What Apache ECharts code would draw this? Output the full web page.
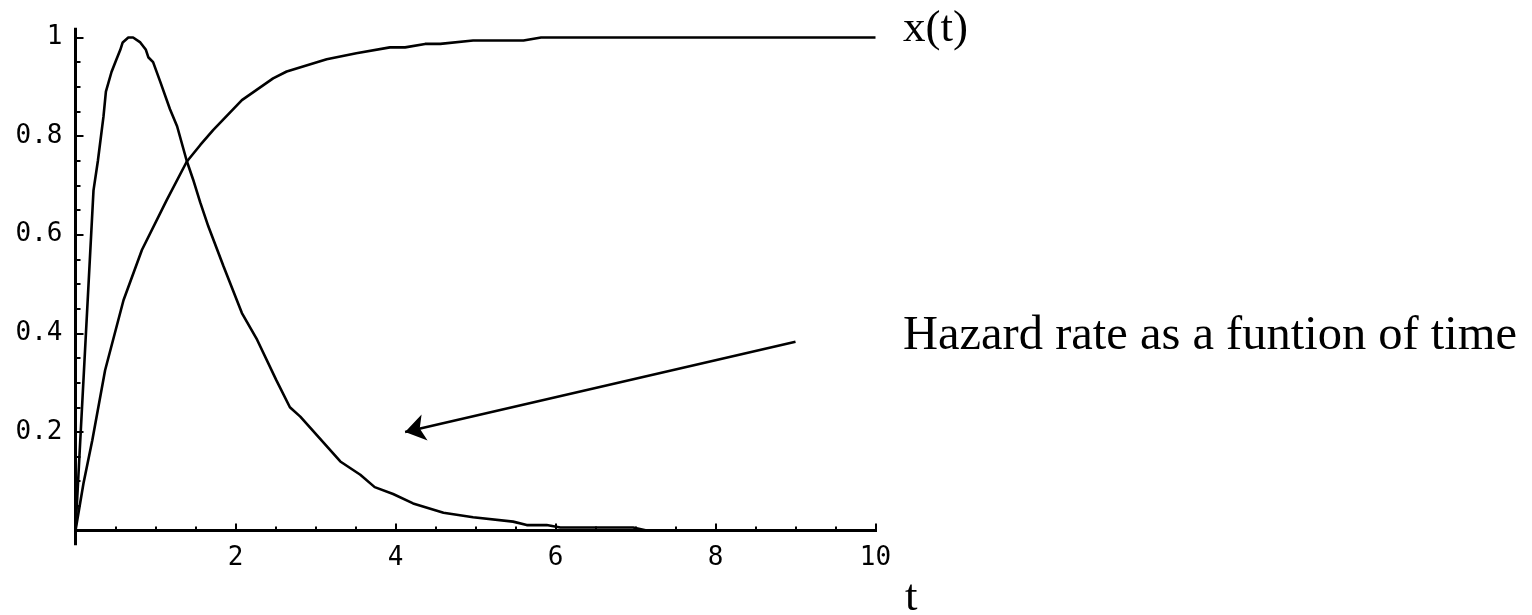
<!DOCTYPE html>
<html>
<head>
<meta charset="utf-8">
<script src="https://cdn.jsdelivr.net/npm/echarts@6/dist/echarts.min.js"></script>
<style>
html,body{margin:0;padding:0;background:#fff;}
#chart{width:1532px;height:615px;}
</style>
</head>
<body>
<div id="chart"></div>
<script>
// Hazard rate curve: [t, value]
const hazardT = [0, 0.225, 0.28, 0.35, 0.38, 0.45, 0.51, 0.56, 0.59, 0.66, 0.72, 0.81, 0.88, 0.91, 0.97, 1.06, 1.18, 1.27, 1.39, 1.47, 1.56, 1.66, 1.85, 2.08, 2.27, 2.51, 2.68, 2.81, 3.31, 3.56, 3.74, 3.97, 4.22, 4.60, 4.97, 5.47, 5.64, 5.89, 6.06, 6.97, 7.14, 10];
const hazardV = [0, 0.69, 0.75, 0.84, 0.89, 0.93, 0.955, 0.975, 0.99, 1.0, 1.0, 0.99, 0.975, 0.96, 0.95, 0.91, 0.855, 0.82, 0.75, 0.712, 0.665, 0.617, 0.536, 0.441, 0.387, 0.305, 0.25, 0.231, 0.140, 0.113, 0.088, 0.074, 0.055, 0.036, 0.027, 0.018, 0.011, 0.011, 0.006, 0.006, 0, 0];
// x(t) curve
const xtT = [0, 0.1, 0.21, 0.37, 0.60, 0.83, 1.14, 1.39, 1.56, 1.72, 2.08, 2.47, 2.64, 3.14, 3.51, 3.93, 4.12, 4.37, 4.56, 4.97, 5.60, 5.82, 10];
const xtV = [0, 0.096, 0.183, 0.325, 0.467, 0.569, 0.670, 0.748, 0.782, 0.812, 0.873, 0.917, 0.931, 0.956, 0.968, 0.980, 0.980, 0.987, 0.987, 0.994, 0.994, 1.0, 1.0];
// arrow annotation (from -> to)
const arrowFrom = [9.0, 0.383];
const arrowTo = [4.12, 0.2];
// axis extents (drawn axis lines)
const xAxisLineExtent = [-0.25, 10.25];
const yAxisLineExtent = [-0.03, 1.02];
// tick labels
const xTickLabels = ['2', '4', '6', '8', '10'];
const xTickValues = [2, 4, 6, 8, 10];
const yTickLabels = ['0.2', '0.4', '0.6', '0.8', '1'];
const yTickValues = [0.2, 0.4, 0.6, 0.8, 1];
// text labels
const curveLabel = 'x(t)';
const hazardLabel = 'Hazard rate as a funtion of time';
const xAxisName = 't';

const chart = echarts.init(document.getElementById('chart'), null, {renderer: 'canvas'});
const zip = (a, b) => a.map((v, i) => [v, b[i]]);
const lab = (vals, labels) => (v) => {
  const i = vals.findIndex(x => Math.abs(x - v) < 1e-9);
  return i >= 0 ? labels[i] : '';
};
const black = '#000';
const monoFont = '"DejaVu Sans Mono", "Liberation Mono", monospace';
const serifFont = '"Liberation Serif", "DejaVu Serif", serif';

const option = {
  animation: false,
  backgroundColor: '#fff',
  grid: {left: 75.5, top: 37.5, width: 800, height: 493},
  xAxis: {
    type: 'value', min: 0, max: 10, interval: 2,
    axisLine: {show: false},
    splitLine: {show: false},
    axisTick: {show: true, inside: true, length: 7, lineStyle: {color: black, width: 2}},
    minorTick: {show: true, splitNumber: 4, length: 4, lineStyle: {color: black, width: 2}},
    axisLabel: {formatter: lab(xTickValues, xTickLabels), color: black, fontFamily: monoFont, fontSize: 26, margin: 15}
  },
  yAxis: {
    type: 'value', min: 0, max: 1, interval: 0.2,
    axisLine: {show: false},
    splitLine: {show: false},
    axisTick: {show: true, inside: true, length: 8, lineStyle: {color: black, width: 2}},
    minorTick: {show: true, splitNumber: 4, length: 5, lineStyle: {color: black, width: 2}},
    axisLabel: {formatter: lab(yTickValues, yTickLabels), color: black, fontFamily: monoFont, fontSize: 26, margin: 13}
  },
  graphic: [
    {type: 'text', x: 903, y: 29, style: {text: curveLabel, font: '45px ' + serifFont, fill: black, textVerticalAlign: 'middle', textAlign: 'left'}},
    {type: 'text', x: 903, y: 336, style: {text: hazardLabel, font: '48.5px ' + serifFont, fill: black, textVerticalAlign: 'middle', textAlign: 'left'}},
    {type: 'text', x: 905, y: 598, style: {text: xAxisName, font: '45px ' + serifFont, fill: black, textVerticalAlign: 'middle', textAlign: 'left'}}
  ],
  series: [
    {type: 'line', data: zip(xAxisLineExtent, [0, 0]), clip: false, showSymbol: false, symbol: 'none',
     lineStyle: {color: black, width: 3}, silent: true, z: 3},
    {type: 'line', data: zip([0, 0], yAxisLineExtent), clip: false, showSymbol: false, symbol: 'none',
     lineStyle: {color: black, width: 3}, silent: true, z: 3},
    {type: 'line', name: 'hazard', data: zip(hazardT, hazardV), showSymbol: false, symbol: 'none', clip: false,
     lineStyle: {color: black, width: 2.6}, z: 4},
    {type: 'line', name: 'x(t)', data: zip(xtT, xtV), showSymbol: false, symbol: 'none', clip: false,
     lineStyle: {color: black, width: 2.6}, z: 4,
     markLine: {
       silent: true, animation: false,
       symbol: ['none', 'arrow'], symbolSize: 20,
       label: {show: false},
       emphasis: {disabled: true},
       itemStyle: {color: black},
       lineStyle: {color: black, width: 2.6, type: 'solid'},
       data: [[{coord: arrowFrom}, {coord: arrowTo}]]
     }}
  ]
};
chart.setOption(option);
</script>
</body>
</html>
